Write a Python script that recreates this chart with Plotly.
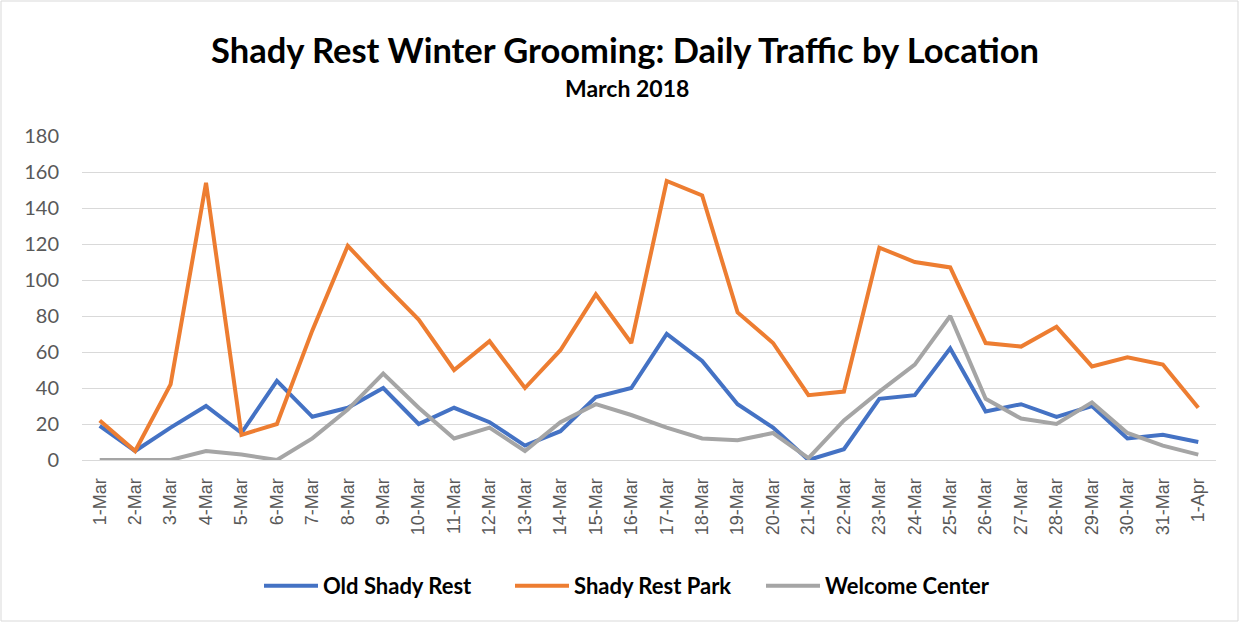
import plotly.graph_objects as go

dates = ["1-Mar","2-Mar","3-Mar","4-Mar","5-Mar","6-Mar","7-Mar","8-Mar","9-Mar","10-Mar",
         "11-Mar","12-Mar","13-Mar","14-Mar","15-Mar","16-Mar","17-Mar","18-Mar","19-Mar","20-Mar",
         "21-Mar","22-Mar","23-Mar","24-Mar","25-Mar","26-Mar","27-Mar","28-Mar","29-Mar","30-Mar",
         "31-Mar","1-Apr"]

old_shady_rest = [19, 5, 18, 30, 15, 44, 24, 29, 40, 20, 29, 21, 8, 16, 35, 40, 70, 55, 31, 18,
                  0, 6, 34, 36, 62, 27, 31, 24, 30, 12, 14, 10]
shady_rest_park = [22, 5, 42, 154, 14, 20, 72, 119, 98, 78, 50, 66, 40, 61, 92, 65, 155, 147, 82, 65,
                   36, 38, 118, 110, 107, 65, 63, 74, 52, 57, 53, 29]
welcome_center = [0, 0, 0, 5, 3, 0, 12, 28, 48, 29, 12, 18, 5, 21, 31, 25, 18, 12, 11, 15,
                  1, 22, 38, 53, 80, 34, 23, 20, 32, 15, 8, 3]

series = [("Old Shady Rest", old_shady_rest, "#4472C4"),
          ("Shady Rest Park", shady_rest_park, "#ED7D31"),
          ("Welcome Center", welcome_center, "#A5A5A5")]

fig = go.Figure()
for name, vals, col in series:
    fig.add_trace(go.Scatter(x=dates, y=vals, mode="lines", name=name,
                             line=dict(color=col, width=4)))

font = "Lato, Carlito, Calibri, sans-serif"
L, T, W, H = 82, 136, 1134, 324
fig.update_layout(
    width=1241, height=624,
    margin=dict(l=L, r=1241 - L - W, t=T, b=624 - T - H),
    paper_bgcolor="white", plot_bgcolor="white",
    font=dict(family=font, color="#595959"),
    showlegend=True,
    legend=dict(orientation="h", x=(259 - L) / W, xanchor="left", y=(460 - 586) / H, yanchor="middle",
                font=dict(size=22, color="black", family=font, weight="bold"),
                itemwidth=54, entrywidth=182, entrywidthmode="pixels", tracegroupgap=0),
    xaxis=dict(type="category", range=[-0.5, 31.5], tickangle=-90,
               tickfont=dict(size=18, color="#595959", family="Liberation Sans, Arial, sans-serif"),
               showgrid=False, showline=True, linecolor="#D9D9D9", linewidth=1,
               ticks="", ticklabelstandoff=10),
    yaxis=dict(range=[0, 180], dtick=20, tickfont=dict(size=20, color="#595959"),
               showgrid=True, gridcolor="#D9D9D9", gridwidth=1, zeroline=False,
               showline=False, ticks="", ticklabelstandoff=22),
    annotations=[
        dict(text="<b>Shady Rest Winter Grooming: Daily Traffic by Location</b>",
             xref="paper", yref="paper", x=(625 - L) / W, y=(460 - 50) / H,
             xanchor="center", yanchor="middle", showarrow=False,
             font=dict(size=34.5, color="black", family=font)),
        dict(text="<b>March 2018</b>",
             xref="paper", yref="paper", x=(627 - L) / W, y=(460 - 88) / H,
             xanchor="center", yanchor="middle", showarrow=False,
             font=dict(size=23, color="black", family=font)),
    ],
    shapes=[dict(type="rect", xref="paper", yref="paper",
                 x0=(1 - L) / W, x1=(1238 - L) / W, y0=(460 - 621) / H, y1=(460 - 1) / H,
                 line=dict(color="#D9D9D9", width=1), fillcolor="rgba(0,0,0,0)", layer="below")],
)

fig.write_html("out.html", config={"displayModeBar": False},
               post_script="document.body.style.margin='0px';")
